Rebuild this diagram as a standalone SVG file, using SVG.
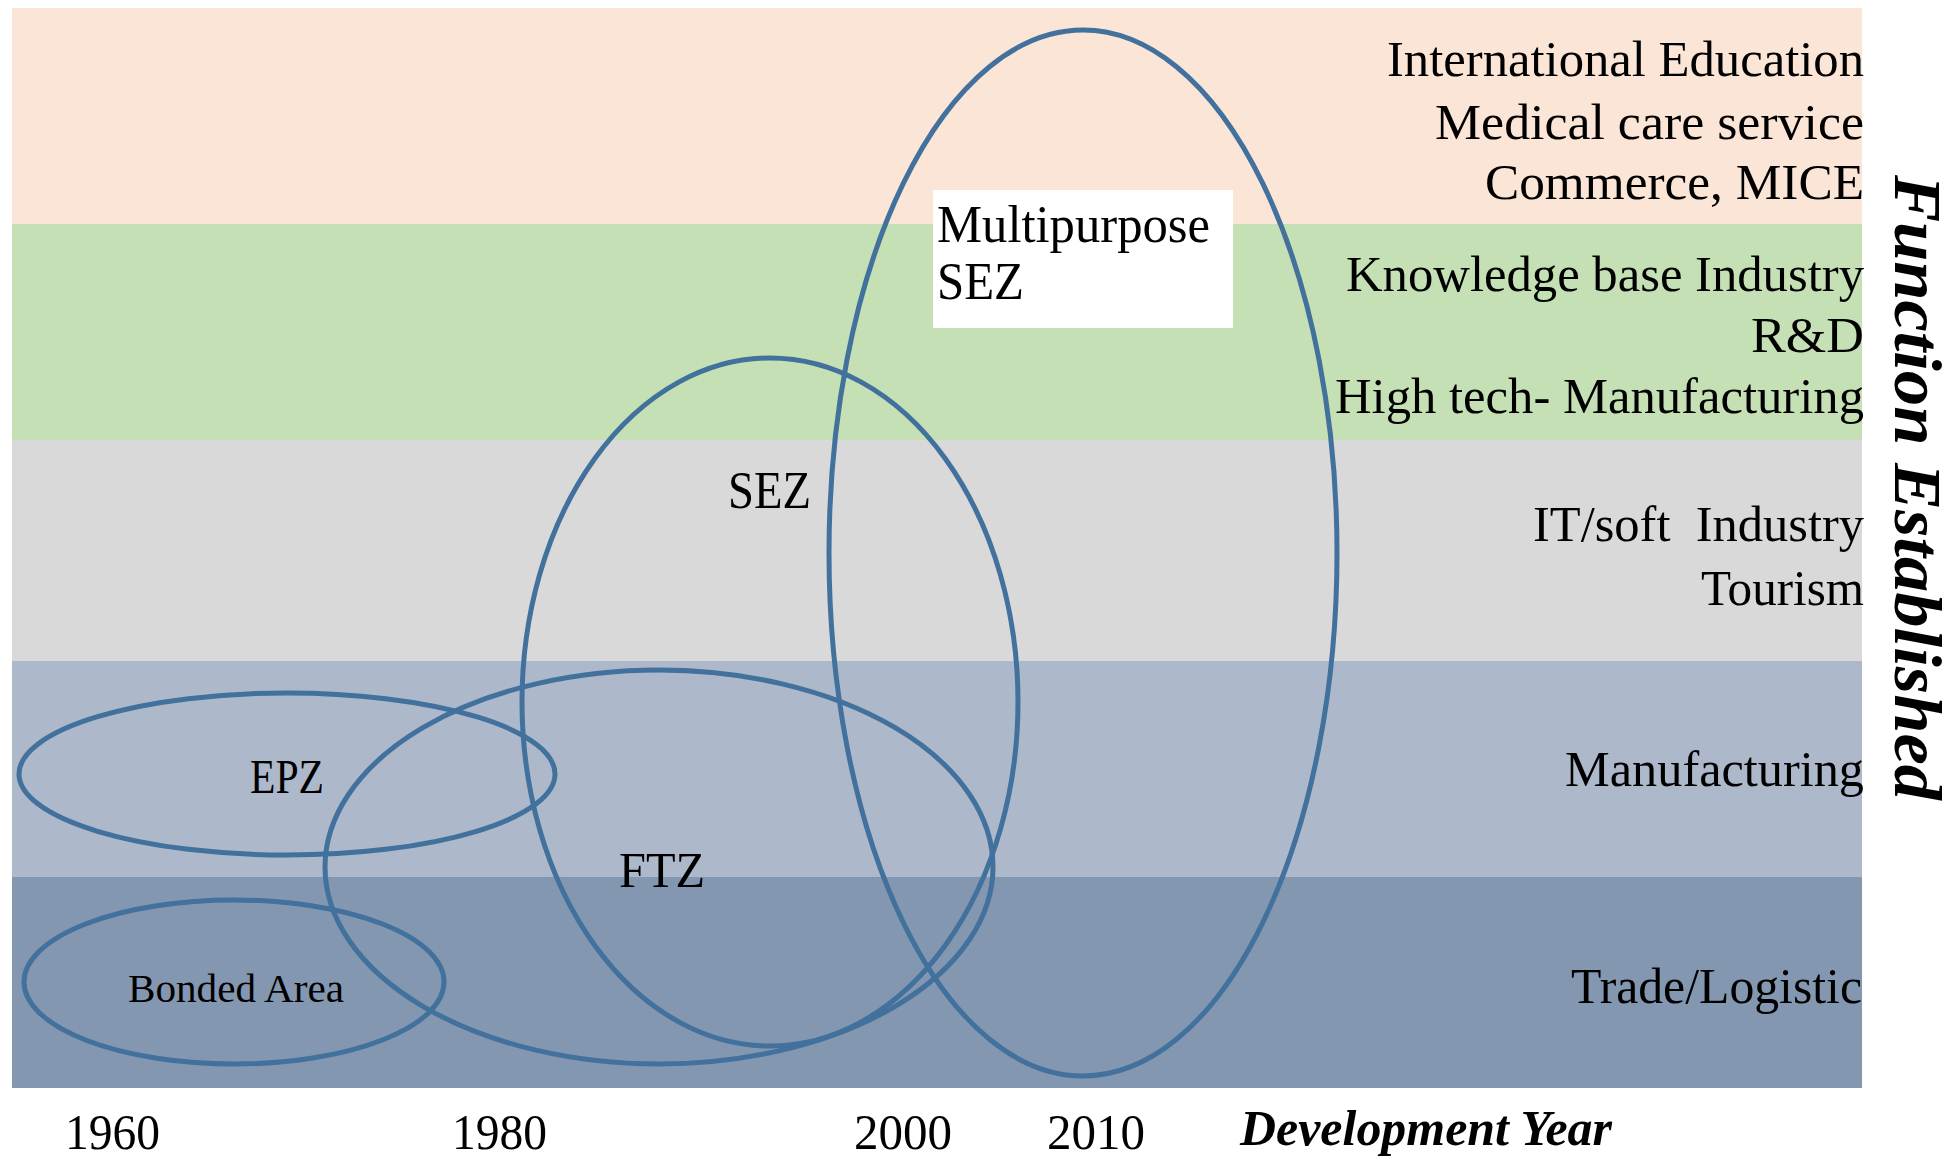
<svg xmlns="http://www.w3.org/2000/svg" width="1959" height="1160" viewBox="0 0 1959 1160">
<style>
.t{font-family:"Liberation Serif","Times New Roman",serif;fill:#000}
.r{text-anchor:end;font-size:51px}
.bi{font-weight:bold;font-style:italic}
.zone{fill:none;stroke:#41719C;stroke-width:5}
.yr{font-size:50px}
</style>
<rect width="1959" height="1160" fill="#ffffff"/>
<g id="bands">
<rect x="12" y="8" width="1850" height="216" fill="#FBE5D6"/>
<rect x="12" y="224" width="1850" height="216" fill="#C5E0B4"/>
<rect x="12" y="440" width="1850" height="221" fill="#D9D9D9"/>
<rect x="12" y="661" width="1850" height="216" fill="#ADB9CA"/>
<rect x="12" y="877" width="1850" height="211" fill="#8497B0"/>
</g>
<g id="band-labels">
<text class="t r" x="1864" y="76" textLength="477" lengthAdjust="spacingAndGlyphs">International Education</text>
<text class="t r" x="1864" y="139" textLength="429" lengthAdjust="spacingAndGlyphs">Medical care service</text>
<text class="t r" x="1864" y="199" textLength="379" lengthAdjust="spacingAndGlyphs">Commerce, MICE</text>
<text class="t r" x="1864" y="291" textLength="518" lengthAdjust="spacingAndGlyphs">Knowledge base Industry</text>
<text class="t r" x="1864" y="352" textLength="113" lengthAdjust="spacingAndGlyphs">R&amp;D</text>
<text class="t r" x="1864" y="413" textLength="529" lengthAdjust="spacingAndGlyphs">High tech- Manufacturing</text>
<text class="t r" x="1864" y="541" textLength="331" lengthAdjust="spacingAndGlyphs" xml:space="preserve">IT/soft  Industry</text>
<text class="t r" x="1864" y="605" textLength="163" lengthAdjust="spacingAndGlyphs">Tourism</text>
<text class="t r" x="1864" y="786" textLength="299" lengthAdjust="spacingAndGlyphs">Manufacturing</text>
<text class="t r" x="1862" y="1003" textLength="291" lengthAdjust="spacingAndGlyphs">Trade/Logistic</text>
</g>
<g id="connectors"></g>
<g id="node-bonded">
<ellipse class="zone" cx="234" cy="982" rx="210" ry="82" stroke-width="6"/>
<text class="t" x="128" y="1002" font-size="41" textLength="216" lengthAdjust="spacingAndGlyphs">Bonded Area</text>
</g>
<g id="node-epz">
<ellipse class="zone" cx="287" cy="774" rx="268" ry="81" stroke-width="6"/>
<text class="t" x="250" y="793" font-size="48" textLength="74" lengthAdjust="spacingAndGlyphs">EPZ</text>
</g>
<g id="node-ftz">
<ellipse class="zone" cx="659" cy="867" rx="334" ry="197"/>
<text class="t" x="619" y="887" font-size="50" textLength="86" lengthAdjust="spacingAndGlyphs">FTZ</text>
</g>
<g id="node-sez">
<ellipse class="zone" cx="770" cy="702" rx="248" ry="344"/>
<text class="t" x="728" y="508" font-size="53" textLength="83" lengthAdjust="spacingAndGlyphs">SEZ</text>
</g>
<g id="node-multi">
<ellipse class="zone" cx="1083" cy="553" rx="254" ry="523"/>
<rect x="933" y="190" width="300" height="138" fill="#ffffff"/>
<text class="t" x="937" y="242" font-size="52" textLength="273" lengthAdjust="spacingAndGlyphs">Multipurpose</text>
<text class="t" x="937" y="299" font-size="52" textLength="87" lengthAdjust="spacingAndGlyphs">SEZ</text>
</g>
<g id="axis">
<text class="t yr" x="65" y="1149" textLength="95" lengthAdjust="spacingAndGlyphs">1960</text>
<text class="t yr" x="452" y="1149" textLength="95" lengthAdjust="spacingAndGlyphs">1980</text>
<text class="t yr" x="854" y="1149" textLength="98" lengthAdjust="spacingAndGlyphs">2000</text>
<text class="t yr" x="1047" y="1149" textLength="98" lengthAdjust="spacingAndGlyphs">2010</text>
<text class="t bi" x="1240" y="1145" font-size="50" textLength="372" lengthAdjust="spacingAndGlyphs">Development Year</text>
<text class="t bi" x="1895" y="175" font-size="68" textLength="625" lengthAdjust="spacingAndGlyphs" transform="rotate(90 1895 175)">Function Established</text>
</g>
</svg>
